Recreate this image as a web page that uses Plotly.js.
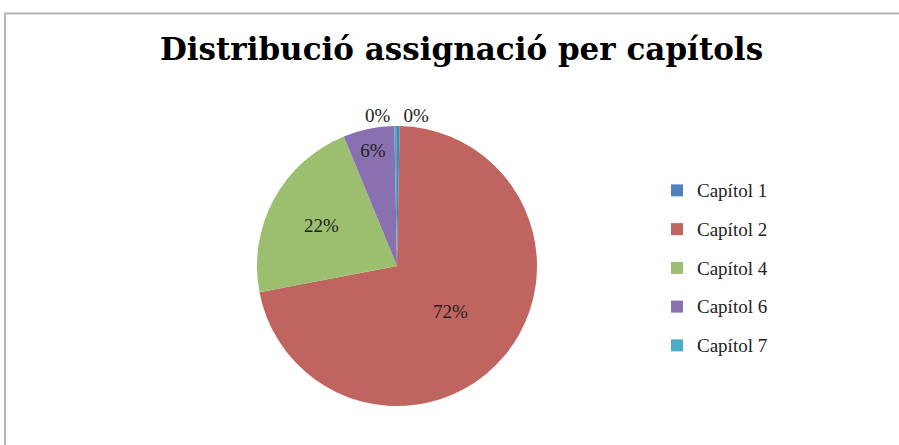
<!DOCTYPE html>
<html>
<head>
<meta charset="utf-8">
<script src="https://cdn.plot.ly/plotly-3.0.1.min.js"></script>
<style>html,body{margin:0;padding:0;background:#fff;}#chart{width:899px;height:445px;}</style>
</head>
<body>
<div id="chart"></div>
<script>
// Data (percent of total)
const categories = ['Capítol 1', 'Capítol 2', 'Capítol 4', 'Capítol 6', 'Capítol 7'];
const values = [0.3, 71.7, 21.8, 5.9, 0.3];
const colors = ['#4F81BD', '#C0645F', '#9CBF6F', '#8970B0', '#4BACC6'];
const textPositions = ['outside', 'inside', 'inside', 'inside', 'outside'];
const chartTitle = 'Distribució assignació per capítols';

const W = 899, H = 445;
const legendLabels = categories.map(c => '<span style="font-size:19px;baseline-shift:4px">' + c + '</span>');

const trace = {
  type: 'pie',
  labels: legendLabels,
  values: values,
  sort: false,
  direction: 'clockwise',
  rotation: 0,
  marker: {colors: colors, line: {width: 0}},
  texttemplate: '%{percent:.0%}',
  textposition: textPositions,
  insidetextorientation: 'horizontal',
  textfont: {family: 'Liberation Serif', size: 19, color: '#222'},
  outsidetextfont: {family: 'Liberation Serif', size: 19, color: '#222'},
  domain: {x: [(397 - 140) / W, (397 + 140) / W], y: [(H - 266 - 140) / H, (H - 266 + 140) / H]},
  hoverinfo: 'label+percent'
};

const layout = {
  width: W, height: H,
  margin: {l: 0, r: 0, t: 0, b: 0},
  paper_bgcolor: '#fff',
  font: {family: 'Liberation Serif', color: '#222'},
  title: {
    text: '<b>' + chartTitle + '</b>',
    x: 461.5 / W, xanchor: 'center', xref: 'paper',
    y: 1 - 49 / H, yanchor: 'middle', yref: 'container',
    font: {family: 'DejaVu Serif', size: 31, color: '#000'}
  },
  showlegend: true,
  legend: {
    x: 657 / W, xanchor: 'left',
    y: 1 - 166 / H, yanchor: 'top',
    font: {family: 'Liberation Serif', size: 27.5, color: '#222'},
    bgcolor: 'rgba(0,0,0,0)'
  },
  shapes: [{
    type: 'rect', xref: 'paper', yref: 'paper',
    x0: 5 / W, x1: 1.02, y0: -0.02, y1: 1 - 13.5 / H,
    line: {color: '#B5B5B5', width: 2}
  }]
};

Plotly.newPlot('chart', [trace], layout, {displayModeBar: false, staticPlot: true});
</script>
</body>
</html>
